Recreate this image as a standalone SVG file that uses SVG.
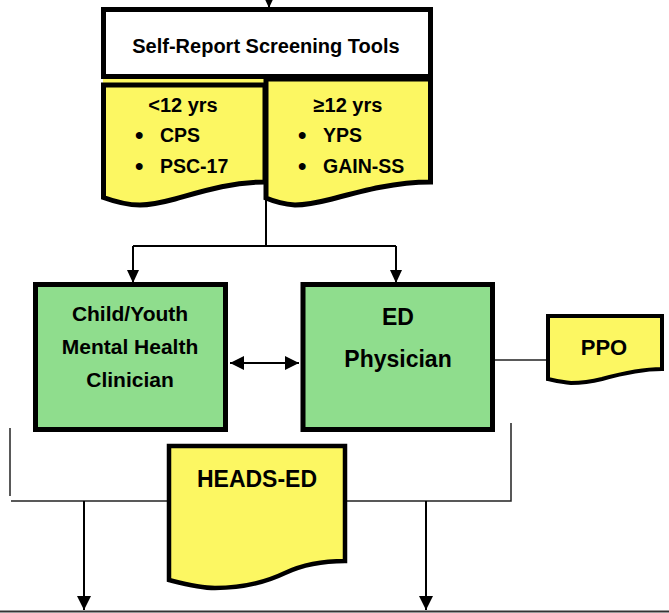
<svg xmlns="http://www.w3.org/2000/svg" width="669" height="613" viewBox="0 0 669 613">
<defs>
<marker id="ah" markerUnits="userSpaceOnUse" markerWidth="14" markerHeight="14" refX="14" refY="7" orient="auto-start-reverse" viewBox="0 0 14 14"><path d="M0,0 L14,7 L0,14 Z" fill="#000"/></marker>
<marker id="ahs" markerUnits="userSpaceOnUse" markerWidth="13" markerHeight="12" refX="13" refY="6" orient="auto" viewBox="0 0 13 12"><path d="M0,0 L13,6 L0,12 Z" fill="#000"/></marker>
<style>
.box{stroke:#000;stroke-width:5;stroke-linejoin:miter}
.green{fill:#8FDD8D}
.yellow{fill:#FCF762}
.white{fill:#fff}
.t{font-family:"Liberation Sans",Arial,sans-serif;font-weight:bold;fill:#000}
.c{text-anchor:middle}
.ln{stroke:#000;stroke-width:2;fill:none}
.thin{stroke:#222;stroke-width:1.5;fill:none}
</style>
</defs>
<g id="connectors">
<line class="ln" x1="269" y1="-14" x2="269" y2="8" marker-end="url(#ahs)"/>
<line class="ln" x1="266" y1="200" x2="266" y2="246"/>
<line class="ln" x1="133" y1="246" x2="396" y2="246"/>
<line class="ln" x1="133" y1="246" x2="133" y2="283" marker-end="url(#ahs)"/>
<line class="ln" x1="396" y1="246" x2="396" y2="283" marker-end="url(#ahs)"/>
<line class="ln" x1="230" y1="363" x2="299" y2="363" marker-start="url(#ah)" marker-end="url(#ah)"/>
<line class="thin" x1="495" y1="360" x2="547" y2="360"/>
<line class="thin" x1="10" y1="428" x2="10" y2="496"/>
<line class="thin" x1="11" y1="501" x2="167" y2="501"/>
<polyline class="thin" points="511,423 511,501 347,501"/>
<line class="ln" x1="84" y1="501" x2="84" y2="610" marker-end="url(#ah)"/>
<line class="ln" x1="426" y1="501" x2="426" y2="610" marker-end="url(#ah)"/>
<line x1="0" y1="611.5" x2="669" y2="611.5" stroke="#333" stroke-width="2"/>
</g>
<g id="lt12">
<rect x="103" y="79" width="162" height="4" class="yellow"/>
<path class="box yellow" d="M103.5,85 H265 V182 C230,182 200,192 175,199 C160,203 150,205 140,205 C125,205 113,201 103.5,197.5 Z"/>
<text class="t c" x="183" y="112" font-size="20">&lt;12 yrs</text>
<text class="t" x="135" y="143" font-size="24">•</text>
<text class="t" x="160" y="142" font-size="19.5">CPS</text>
<text class="t" x="135" y="174" font-size="24">•</text>
<text class="t" x="160" y="173" font-size="19.5">PSC-17</text>
</g>
<g id="gte12">
<path class="box yellow" d="M266,79 H430.5 V182 C395,182 362,191 332,199 C316,203 305,205 295,205 C282,204 273,201 266,198 Z"/>
<text class="t c" x="348" y="112" font-size="20">≥12 yrs</text>
<text class="t" x="298" y="143" font-size="24">•</text>
<text class="t" x="323" y="142" font-size="19.5">YPS</text>
<text class="t" x="298" y="174" font-size="24">•</text>
<text class="t" x="323" y="173" font-size="19.5">GAIN-SS</text>
</g>
<g id="screening">
<rect class="box white" x="103.5" y="9.5" width="327" height="67"/>
<text class="t c" x="266" y="53" font-size="20">Self-Report Screening Tools</text>
</g>
<g id="clinician">
<rect class="box green" x="35.5" y="284.5" width="190" height="145"/>
<text class="t c" x="130" y="321" font-size="21">Child/Youth</text>
<text class="t c" x="130" y="354" font-size="21">Mental Health</text>
<text class="t c" x="130" y="387" font-size="21">Clinician</text>
</g>
<g id="physician">
<rect class="box green" x="303" y="284.5" width="189.5" height="145"/>
<text class="t c" x="398" y="325" font-size="23">ED</text>
<text class="t c" x="398" y="367" font-size="23">Physician</text>
</g>
<g id="ppo">
<path class="box yellow" d="M548,316 H662 V369 C640,369 620,374 602,379 C590,382 580,383 571,383 C561,382 553,380 548,379 Z" style="stroke-width:4"/>
<text class="t c" x="604" y="355" font-size="22">PPO</text>
</g>
<g id="heads">
<path class="box yellow" d="M169,446 H345 V561 C320,561 302,565 285,573 C262,584 240,588 215,588 C200,588 185,584 169,580 Z" style="stroke-width:4.5"/>
<text class="t c" x="257" y="487" font-size="23">HEADS-ED</text>
</g>
</svg>
